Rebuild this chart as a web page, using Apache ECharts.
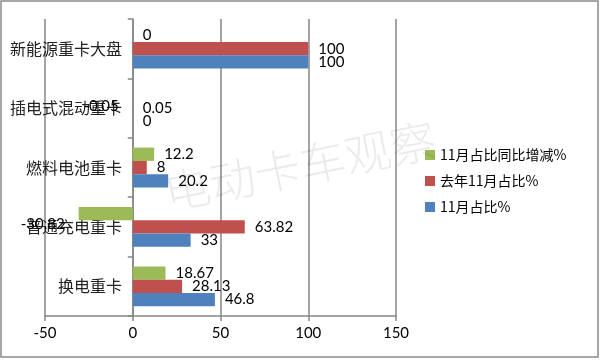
<!DOCTYPE html>
<html><head><meta charset="utf-8">
<script src="https://cdn.jsdelivr.net/npm/echarts@6/dist/echarts.min.js"></script>
<style>html,body{margin:0;padding:0;background:#fff}#c{width:600px;height:360px}</style>
</head><body><div id="c"></div>
<script>
const categories = ['换电重卡', '普通充电重卡', '燃料电池重卡', '插电式混动重卡', '新能源重卡大盘'];
const novShare = [46.8, 33, 20.2, 0, 100];
const lastNovShare = [28.13, 63.82, 8, 0.05, 100];
const yoyChange = [18.67, -30.82, 12.2, -0.05, 0];
const seriesNames = ['11月占比%', '去年11月占比%', '11月占比同比增减%'];
const xTicks = { min: -50, max: 150, interval: 50 };

const colors = ['#4F81BD', '#C0504D', '#9BBB59'];
const labelFont = 'Lato, "Noto Sans CJK SC", sans-serif';
function mk(name, vals, color) {
  return {
    name: name, type: 'bar', barGap: '0%', barCategoryGap: '33%',
    itemStyle: { color: color },
    data: vals.map(v => ({
      value: v,
      label: v < 0 ? { position: 'left', offset: [0, 11], distance: 14 } : { position: 'right' }
    })),
    label: { show: true, distance: 10, color: '#000', fontSize: 15, fontFamily: labelFont,
      formatter: p => String(p.value) },
    animation: false
  };
}
const chart = echarts.init(document.getElementById('c'));
chart.setOption({
  animation: false,
  grid: { left: 45, right: 204, top: 19, bottom: 44, containLabel: false, outerBoundsMode: 'none' },
  legend: {
    orient: 'vertical', left: 420, top: 143, itemWidth: 10, itemHeight: 10, itemGap: 12,
    icon: 'rect', data: [seriesNames[2], seriesNames[1], seriesNames[0]],
    textStyle: { fontSize: 14, color: '#000', fontFamily: '"Noto Sans CJK SC", sans-serif' }
  },
  xAxis: {
    type: 'value', min: xTicks.min, max: xTicks.max, interval: xTicks.interval,
    axisLine: { show: true, lineStyle: { color: '#868686', width: 1.5 } },
    axisTick: { show: true, length: 5, lineStyle: { color: '#868686', width: 1.5 } },
    splitLine: { show: true, lineStyle: { color: '#868686', width: 1.5 } },
    axisLabel: { fontSize: 15, color: '#000', margin: 10, fontFamily: labelFont }
  },
  yAxis: {
    type: 'category', data: categories,
    axisLine: { show: true, onZero: true, lineStyle: { color: '#868686', width: 1.5 } },
    axisTick: { show: true, length: 5, lineStyle: { color: '#868686', width: 1.5 } },
    axisLabel: { fontSize: 16, color: '#222', margin: -77, fontFamily: '"Noto Sans CJK SC", sans-serif' }
  },
  graphic: [
    { type: 'rect', shape: { x: 1, y: 1, width: 597, height: 356 }, style: { fill: 'none', stroke: '#8a8a8a', lineWidth: 1.5 }, silent: true, z: 100 },
    { type: 'text', x: 300, y: 166, rotation: 0.2, silent: true, z: 100,
      style: { text: '电动卡车观察', fontSize: 46, fill: 'rgba(0,0,0,0.08)', align: 'center', verticalAlign: 'middle', fontFamily: '"Noto Sans CJK SC", sans-serif', fontWeight: 300 } }
  ],
  series: [
    mk(seriesNames[2], yoyChange, colors[2]),
    mk(seriesNames[1], lastNovShare, colors[1]),
    mk(seriesNames[0], novShare, colors[0])
  ]
});
</script></body></html>
